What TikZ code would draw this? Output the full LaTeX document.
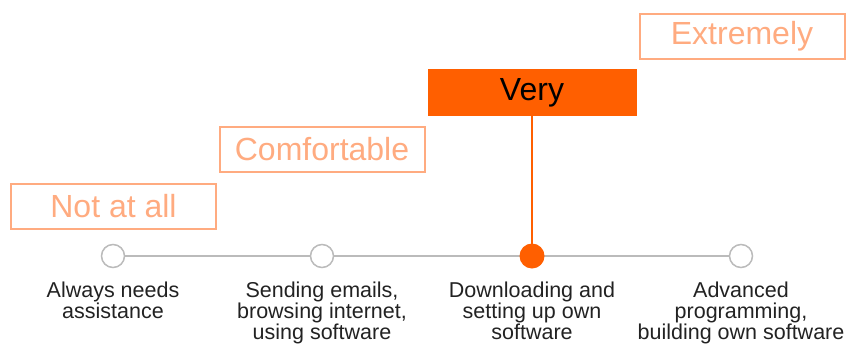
\documentclass[tikz,border=0pt]{standalone}
\usepackage{fontspec}
\setmainfont{Liberation Sans}
\definecolor{lightor}{HTML}{FFAB80}
\definecolor{darkor}{HTML}{FF5F00}
\definecolor{txt}{HTML}{222222}
\definecolor{linegray}{HTML}{BBBBBB}
\begin{document}
\begin{tikzpicture}[x=1pt,y=-1pt,
  levelbox/.style={draw=lightor,line width=2pt,text=lightor,minimum width=205pt,minimum height=45pt,inner sep=0pt,font=\fontsize{32}{34}\selectfont},
  activebox/.style={fill=darkor,draw=darkor,line width=1pt,text=black,minimum width=208pt,minimum height=46pt,inner sep=0pt,font=\fontsize{32}{34}\selectfont},
  dot/.style={circle,draw=linegray,fill=white,line width=1.5pt,minimum size=23pt,inner sep=0pt},
  activedot/.style={circle,fill=darkor,minimum size=25pt,inner sep=0pt},
  lbl/.style={align=center,text=txt,inner sep=0pt,anchor=north,font=\fontsize{21.5}{21}\selectfont}]
\useasboundingbox (0,0) rectangle (848,343);
\node[levelbox] (b1) at (113.5,206) {Not at all};
\node[levelbox] (b2) at (322,149) {Comfortable};
\node[activebox] (b3) at (532,92.5) {Very};
\node[levelbox] (b4) at (742,36.5) {Extremely};
\coordinate (c1) at (113,256);
\coordinate (c2) at (322,256);
\coordinate (c3) at (532,256);
\coordinate (c4) at (741,256);
\draw[linegray,line width=1.2pt] (c1) -- (c4);
\draw[darkor,line width=2pt] (b3.south) -- (c3);
\node[dot] (d1) at (c1) {};
\node[dot] (d2) at (c2) {};
\node[activedot] (d3) at (c3) {};
\node[dot] (d4) at (c4) {};
\node[lbl] (l1) at (113,281.5) {Always needs\\assistance};
\node[lbl] (l2) at (322,281.5) {Sending emails,\\browsing internet,\\using software};
\node[lbl] (l3) at (532,281.5) {Downloading and\\setting up own\\software};
\node[lbl] (l4) at (741,281.5) {Advanced\\programming,\\building own software};
\end{tikzpicture}
\end{document}
